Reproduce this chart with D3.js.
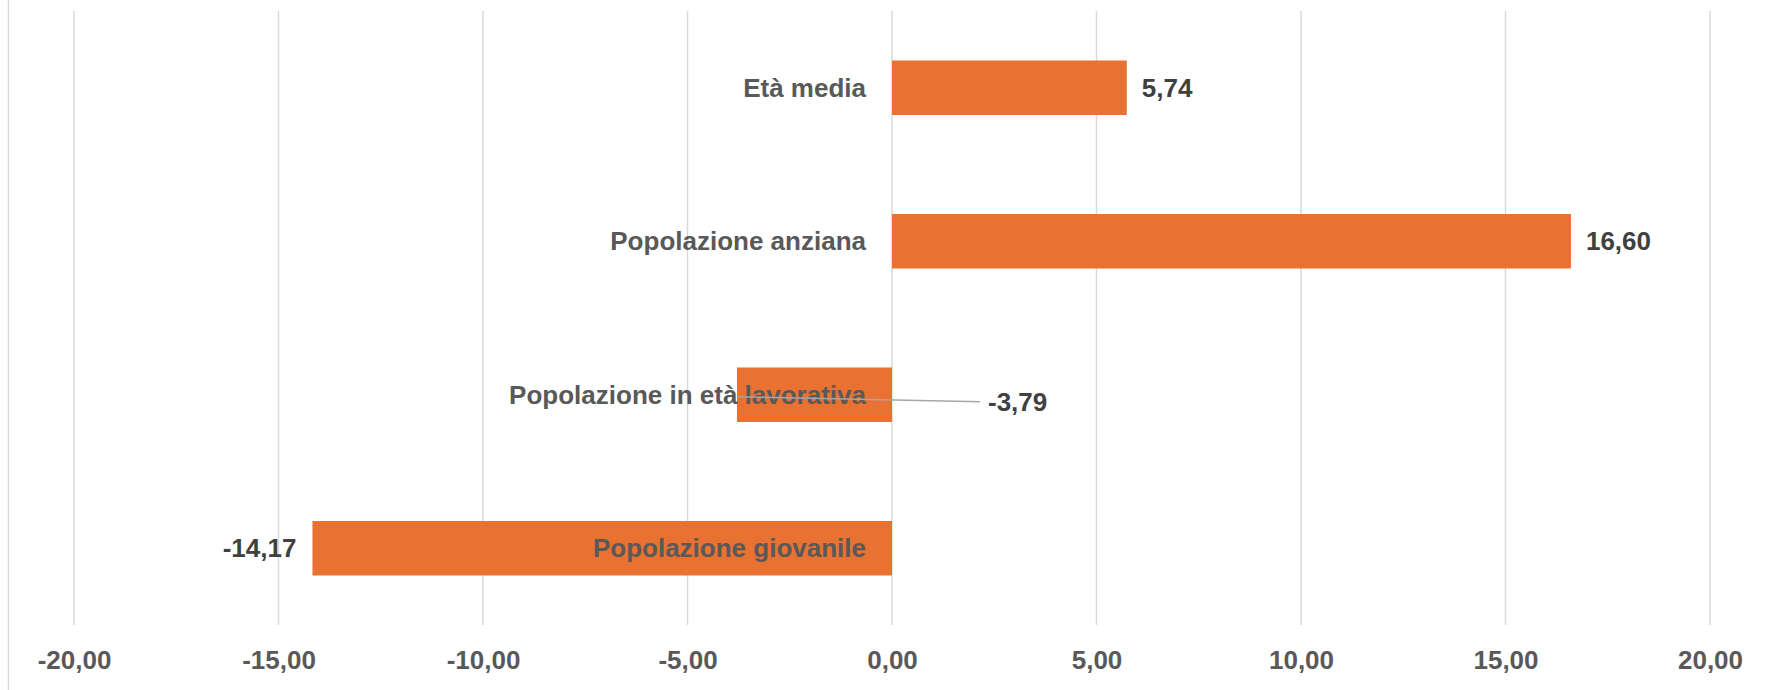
<!DOCTYPE html>
<html>
<head>
<meta charset="utf-8">
<script src="https://cdn.jsdelivr.net/npm/d3@7"></script>
<style>
  html, body { margin: 0; padding: 0; background: #fff; }
  svg { display: block; }
  text { font-family: "Liberation Sans", Arial, Helvetica, sans-serif; font-weight: bold; }
</style>
</head>
<body>
<svg id="chart" width="1767" height="690"></svg>
<script>
const categories = ["Età media", "Popolazione anziana", "Popolazione in età lavorativa", "Popolazione giovanile"];
const values = [5.74, 16.60, -3.79, -14.17];
const tickValues = [-20, -15, -10, -5, 0, 5, 10, 15, 20];

const W = 1767, H = 690;
const svg = d3.select("#chart");

const x = d3.scaleLinear().domain([-20, 20]).range([74, 1710]);
const y = d3.scaleBand().domain(categories).range([11, 625]).paddingInner(0.645).paddingOuter(0.3225);

const loc = d3.formatLocale({decimal: ",", thousands: ".", grouping: [3], currency: ["€", ""], minus: "-"});
const fmt = loc.format(".2f");

// left border
svg.append("line").attr("x1", 8.5).attr("x2", 8.5).attr("y1", 0).attr("y2", H)
  .attr("stroke", "#d9d9d9").attr("stroke-width", 1.5);

// gridlines
svg.append("g").selectAll("line").data(tickValues).join("line")
  .attr("x1", d => x(d)).attr("x2", d => x(d))
  .attr("y1", 11).attr("y2", 625)
  .attr("stroke", "#d9d9d9").attr("stroke-width", 1.5);

// x axis labels via d3 axis
const axis = d3.axisBottom(x).tickValues(tickValues).tickFormat(fmt).tickSize(0).tickPadding(0);
const ag = svg.append("g").attr("transform", "translate(0,660)").call(axis);
ag.select(".domain").remove();
ag.selectAll("text")
  .attr("y", 0).attr("dy", "0.35em")
  .attr("fill", "#595959")
  .style("font-size", "26px")
  .style("font-family", "'Liberation Sans', Arial, sans-serif")
  .style("font-weight", "bold");

const data = categories.map((c, i) => ({c, v: values[i]}));

// bars
svg.append("g").selectAll("rect").data(data).join("rect")
  .attr("x", d => x(Math.min(0, d.v)))
  .attr("width", d => Math.abs(x(d.v) - x(0)))
  .attr("y", d => y(d.c))
  .attr("height", y.bandwidth())
  .attr("fill", "#E97132");

// category labels (right-aligned left of zero line)
svg.append("g").selectAll("text").data(data).join("text")
  .attr("x", x(0) - 26)
  .attr("y", d => y(d.c) + y.bandwidth() / 2)
  .attr("dy", "0.35em")
  .attr("text-anchor", "end")
  .attr("fill", "#595959")
  .style("font-size", "26px")
  .text(d => d.c);

// value labels
const moved = {"Popolazione in età lavorativa": {dx: 96, dy: 7}};
const vl = svg.append("g");
data.forEach(d => {
  const cy = y(d.c) + y.bandwidth() / 2;
  if (moved[d.c]) {
    const lx = x(0) + moved[d.c].dx;
    const ly = cy + moved[d.c].dy;
    vl.append("line")
      .attr("x1", x(d.v)).attr("y1", cy + 2)
      .attr("x2", lx - 8).attr("y2", ly)
      .attr("stroke", "#a6a6a6").attr("stroke-width", 1.5);
    vl.append("text").attr("x", lx).attr("y", ly).attr("dy", "0.35em")
      .attr("text-anchor", "start").attr("fill", "#404040")
      .style("font-size", "26px").text(fmt(d.v));
  } else {
    const pos = d.v >= 0;
    vl.append("text")
      .attr("x", pos ? x(d.v) + 15 : x(d.v) - 16)
      .attr("y", cy).attr("dy", "0.35em")
      .attr("text-anchor", pos ? "start" : "end")
      .attr("fill", "#404040")
      .style("font-size", "26px").text(fmt(d.v));
  }
});
</script>
</body>
</html>
